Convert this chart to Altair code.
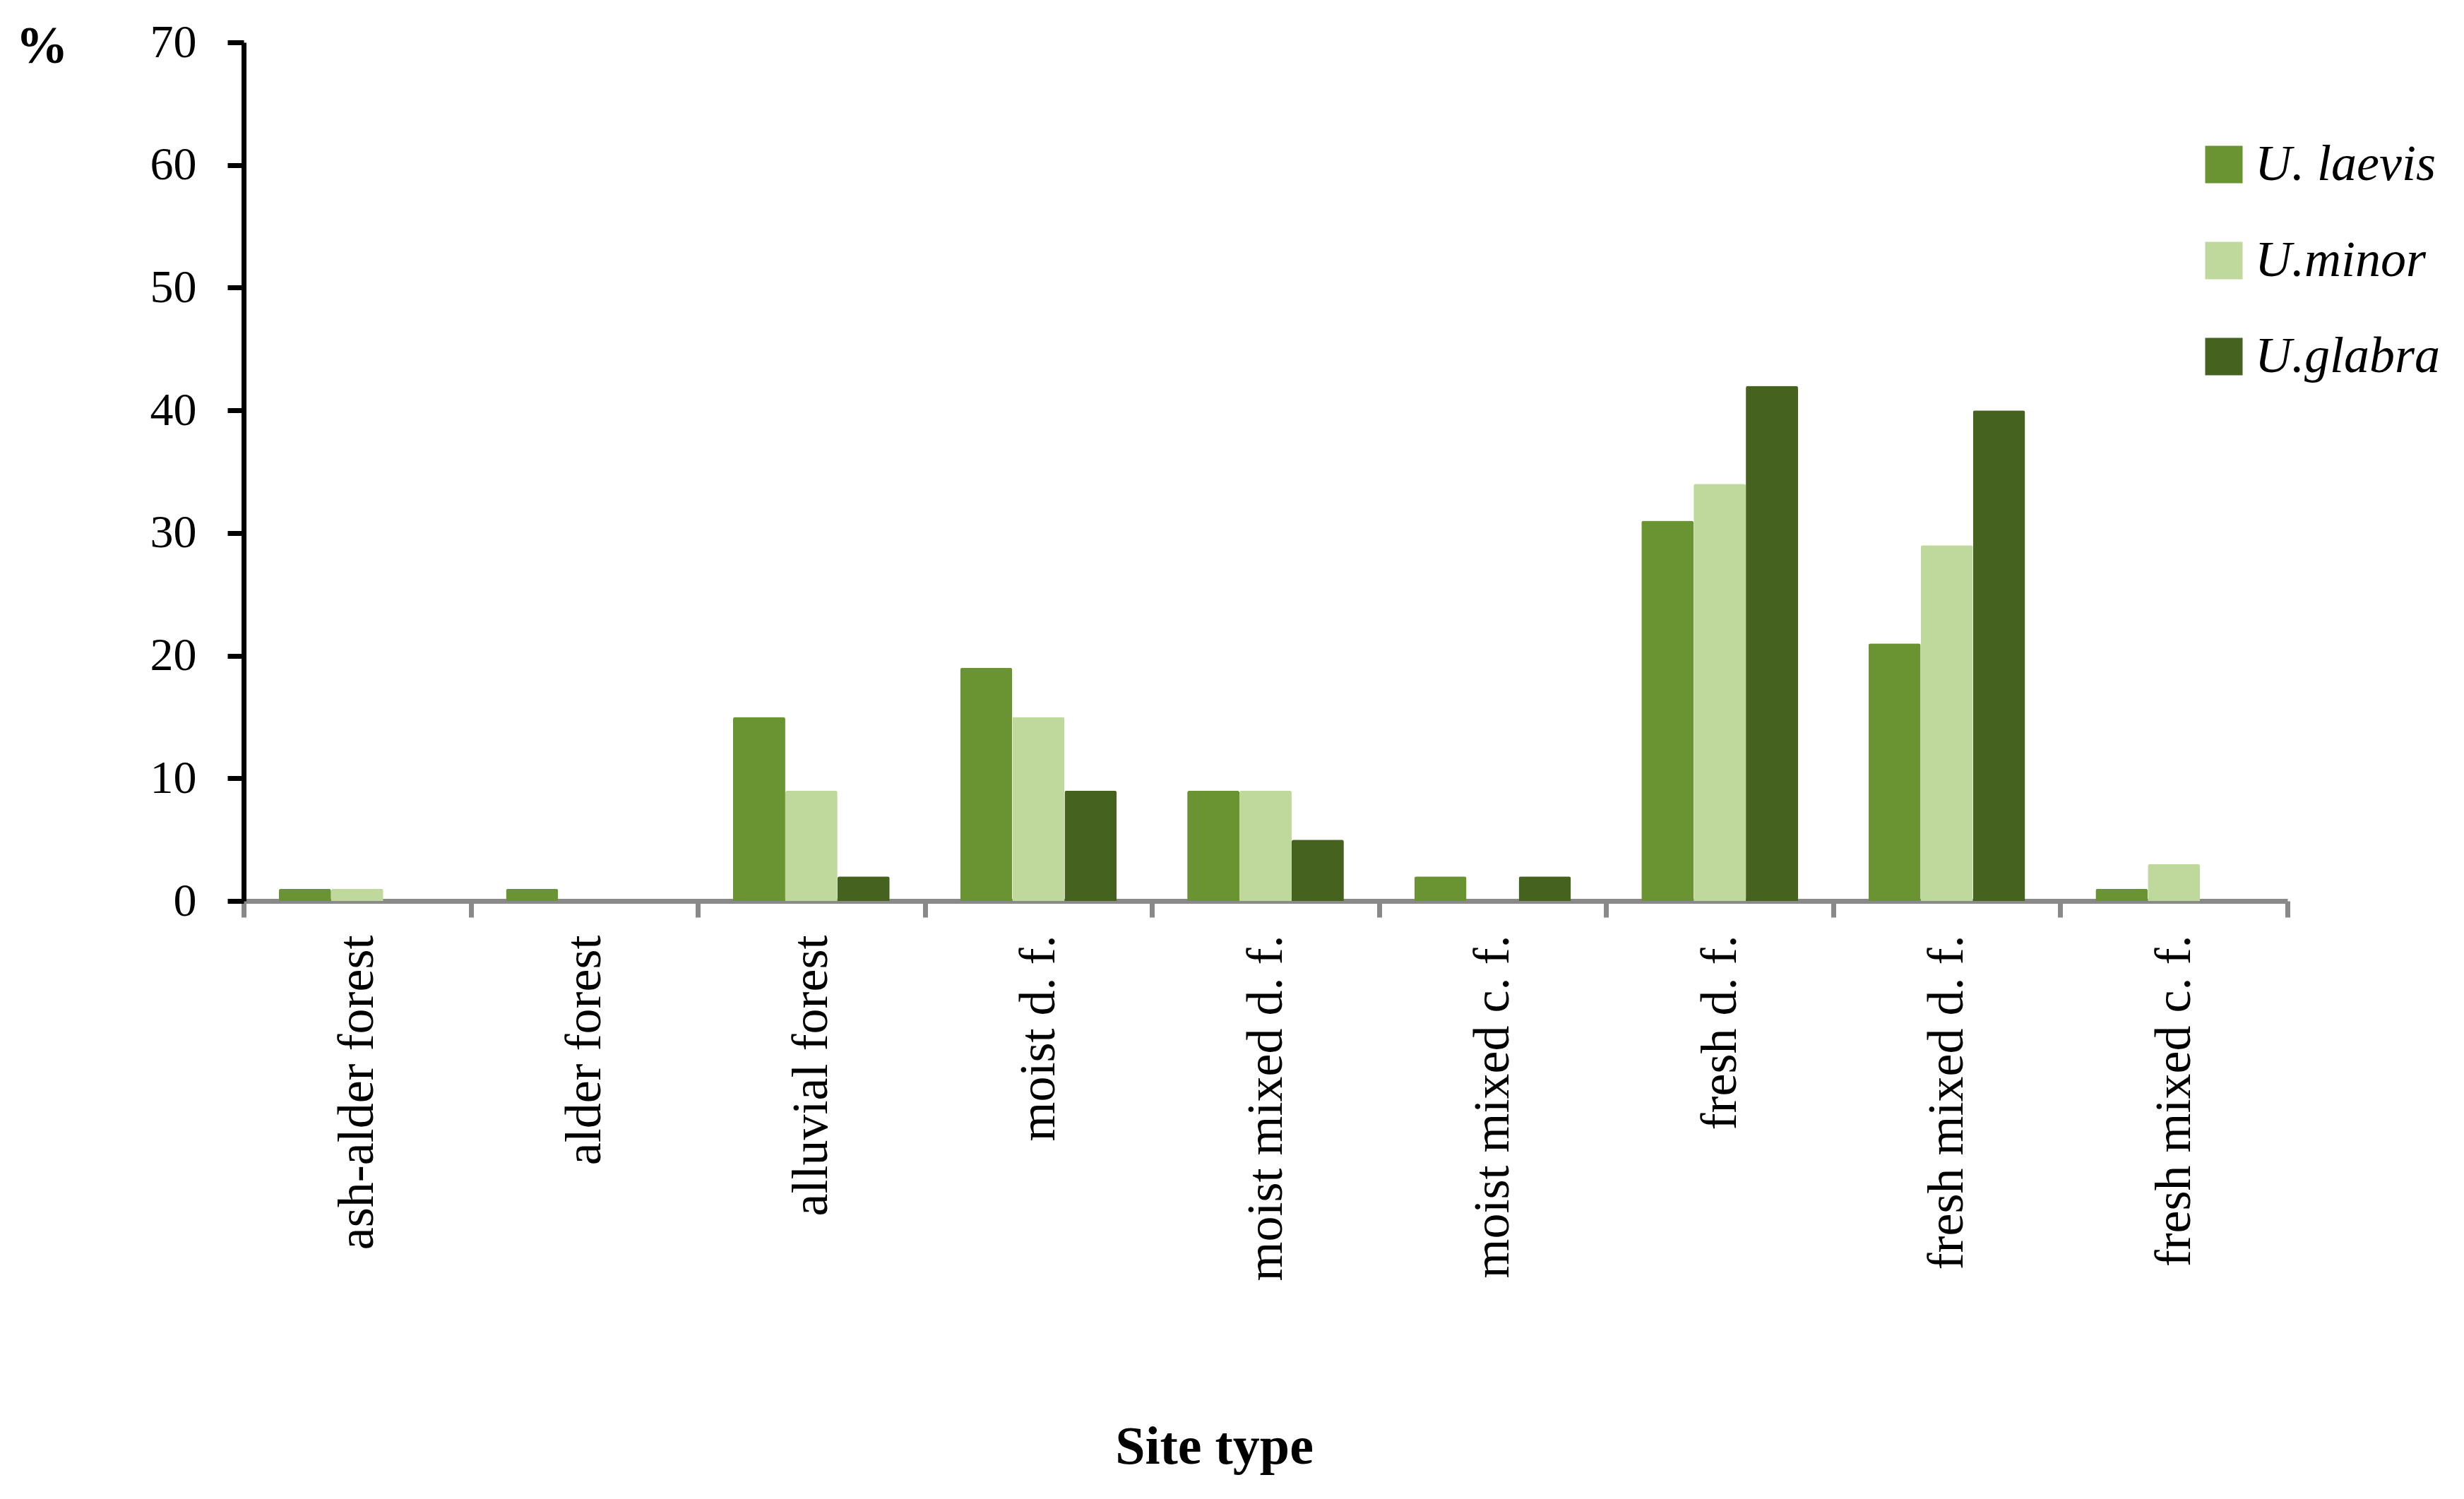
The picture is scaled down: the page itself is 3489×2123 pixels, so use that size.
import altair as alt
import pandas as pd

categories = ["ash-alder forest", "alder forest", "alluvial forest", "moist d. f.",
              "moist mixed d. f.", "moist mixed c. f.", "fresh d. f.",
              "fresh mixed d. f.", "fresh mixed c. f."]
species = ["U. laevis", "U.minor", "U.glabra"]
laevis = [1, 1, 15, 19, 9, 2, 31, 21, 1]
minor = [1, 0, 9, 15, 9, 0, 34, 29, 3]
glabra = [0, 0, 2, 9, 5, 2, 42, 40, 0]
colors = ["#6A9432", "#BFD89B", "#45621F"]
y_ticks = [0, 10, 20, 30, 40, 50, 60, 70]

rows = []
for sp, vals in zip(species, [laevis, minor, glabra]):
    for c, v in zip(categories, vals):
        rows.append({"site": c, "species": sp, "value": v})
df = pd.DataFrame(rows)

FONT = "Liberation Serif"

chart = alt.Chart(df).mark_bar(cornerRadiusTopLeft=3, cornerRadiusTopRight=3).encode(
    x=alt.X("site:N", sort=categories,
            scale=alt.Scale(paddingInner=0, paddingOuter=0),
            axis=alt.Axis(title="Site type", labelAngle=270, labelAlign="right",
                          labelBaseline="middle", labelFont=FONT, labelFontSize=72,
                          labelColor="black", labelPadding=25, labelLimit=1000,
                          tickBand="extent", tickSize=23, tickWidth=7, tickColor="#898989",
                          domainColor="#898989", domainWidth=7, grid=False,
                          titleFont=FONT, titleFontSize=76, titleFontWeight="bold",
                          titleColor="black", titleAnchor="start", titleAlign="center",
                          titleBaseline="alphabetic", titleX=1374, titleY=796)),
    xOffset=alt.XOffset("species:N", sort=species,
                        scale=alt.Scale(paddingInner=0, paddingOuter=0.675)),
    y=alt.Y("value:Q", scale=alt.Scale(domain=[0, 70], nice=False),
            axis=alt.Axis(title="%", values=y_ticks, labelFont=FONT, labelFontSize=66,
                          labelColor="black", labelPadding=44, tickSize=23, tickWidth=7,
                          tickColor="black", domainColor="black", domainWidth=7, grid=False,
                          titleFont=FONT, titleFontSize=74, titleFontWeight="bold",
                          titleColor="black", titleAngle=0, titleAlign="left",
                          titleBaseline="alphabetic", titleX=-323, titleY=28)),
    color=alt.Color("species:N", sort=species,
                    scale=alt.Scale(domain=species, range=colors),
                    legend=alt.Legend(title=None, orient="none", legendX=2768, legendY=137,
                                      symbolType="square", symbolSize=2809,
                                      symbolStrokeWidth=0, labelFont=FONT,
                                      labelFontStyle="italic", labelFontSize=72,
                                      labelColor="black", labelOffset=8,
                                      rowPadding=64, padding=0, labelLimit=1000)),
).properties(
    width=2894, height=1216,
    autosize=alt.AutoSizeParams(type="none"),
    padding={"left": 337, "top": 52, "right": 240, "bottom": 830},
).configure_view(stroke=None)

chart.save("out.html", embed_options={"renderer": "svg", "actions": False})
